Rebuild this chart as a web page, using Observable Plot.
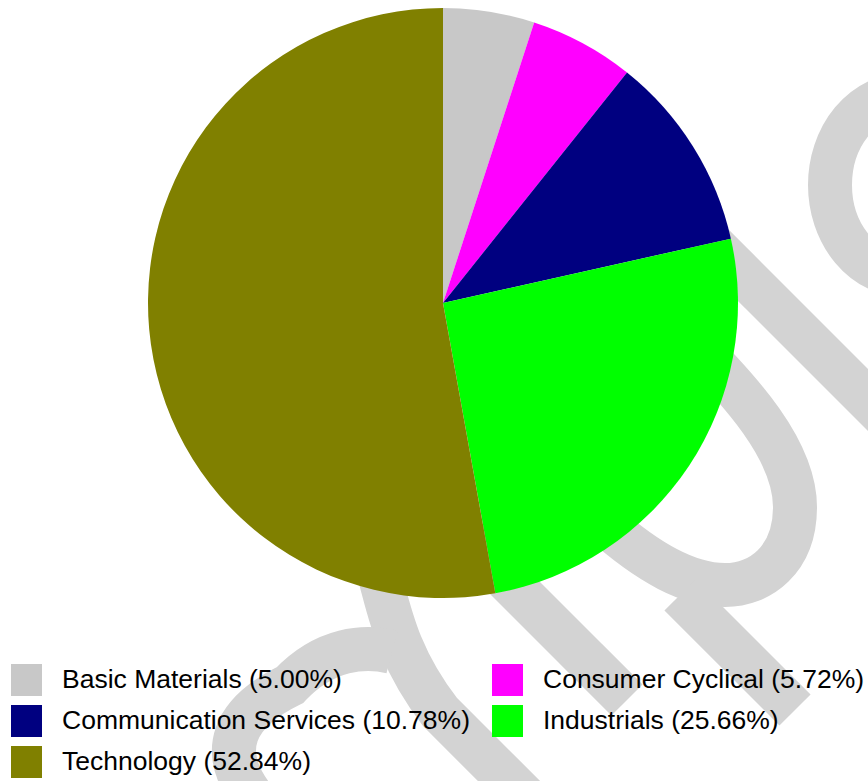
<!DOCTYPE html>
<html>
<head>
<meta charset="utf-8">
<script src="https://cdn.jsdelivr.net/npm/d3@7"></script>
<script src="https://cdn.jsdelivr.net/npm/@observablehq/plot@0.6"></script>
<style>
  html, body { margin: 0; padding: 0; background: #fff; }
  #wrap { position: relative; width: 868px; height: 781px; overflow: hidden; font-family: "Liberation Sans", Arial, sans-serif; }
  #watermark { position: absolute; left: 0; top: 0; z-index: 0; }
  #chart { position: relative; z-index: 1; }
  #legend { position: relative; z-index: 1; display: grid; grid-template-columns: 481px 376px; grid-auto-rows: 41px; padding-left: 11px; }
  .item { display: flex; align-items: center; font-size: 26.5px; color: #000; white-space: nowrap; }
  .sw { width: 31px; height: 32px; margin-right: 20px; flex: none; }
</style>
</head>
<body>
<div id="wrap">
  <!-- decorative background watermark (not data) -->
  <svg id="watermark" width="868" height="781" aria-hidden="true">
    <g fill="none" stroke="#d3d3d3" stroke-width="44" stroke-linecap="butt">
      <ellipse cx="905" cy="185" rx="75" ry="90"></ellipse>
      <path d="M700 232 L960 492"></path>
      <path d="M690 340 C 740 390, 795 450, 795 507 C 795 560, 760 585, 725 585 C 690 585, 650 565, 600 520"></path>
      <path d="M680 595 L795 710"></path>
      <path d="M460 533 L627 700"></path>
      <path d="M375 560 C 388 600, 392 650, 440 712 L 530 802"></path>
      <path d="M392 652 C 365 645, 325 648, 290 685 C 235 712, 215 750, 255 800"></path>
    </g>
  </svg>
  <div id="chart"></div>
  <div id="legend"></div>
</div>
<script>
// ---- data ----
const sectors = ["Basic Materials", "Consumer Cyclical", "Communication Services", "Industrials", "Technology"];
const shares = [5.00, 5.72, 10.78, 25.66, 52.84];
const colors = ["#c8c8c8", "#ff00ff", "#000080", "#00ff00", "#808000"];

const slices = sectors.map((sector, i) => ({sector, share: shares[i]}));
const colorScale = Plot.scale({color: {type: "ordinal", domain: sectors, range: colors}});

const pieMark = (index, scales, values, dimensions) => {
  const color = (scales && scales.color) ? scales.color : (v) => colorScale.apply(v);
  let cx, cy, r;
  if (scales && scales.x && scales.y) {
    cx = scales.x(0); cy = scales.y(0); r = scales.x(1) - scales.x(0);
  } else {
    cx = 443; cy = 303; r = 295;
  }
  const arcs = d3.pie().sort(null).value(d => d.share)(slices);
  const arc = d3.arc().innerRadius(0).outerRadius(r);
  const g = d3.create("svg:g").attr("transform", `translate(${cx},${cy})`);
  g.selectAll("path").data(arcs).join("path")
    .attr("d", arc)
    .attr("fill", d => color(d.data.sector));
  return g.node();
};

const chart = Plot.plot({
  width: 868,
  height: 659,
  margin: 0,
  style: {background: "none", overflow: "visible"},
  x: {domain: [-1, 1], range: [148, 738], axis: null},
  y: {domain: [-1, 1], range: [598, 8], axis: null},
  color: {type: "ordinal", domain: sectors, range: colors},
  marks: [pieMark]
});
document.getElementById("chart").appendChild(chart);

// ---- legend ----
const legend = d3.select("#legend");
slices.forEach(d => {
  const item = legend.append("div").attr("class", "item");
  item.append("span").attr("class", "sw").style("background", colorScale.apply(d.sector));
  item.append("span").text(`${d.sector} (${d.share.toFixed(2)}%)`);
});
</script>
</body>
</html>
